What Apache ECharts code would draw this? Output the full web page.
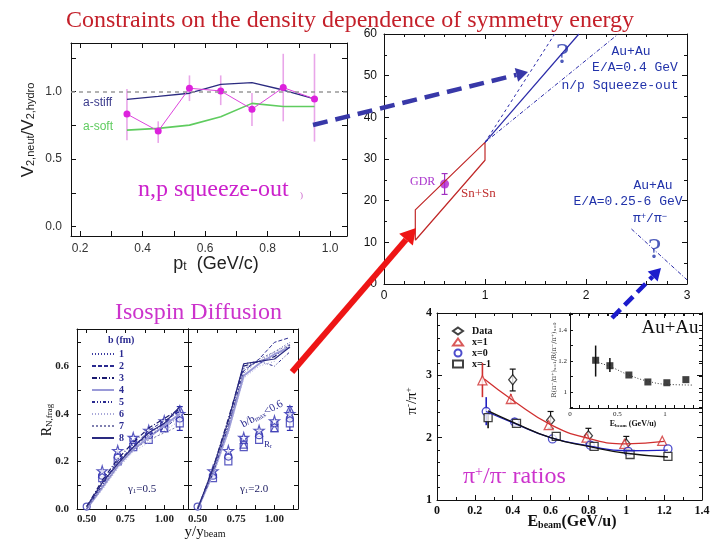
<!DOCTYPE html>
<html><head><meta charset="utf-8">
<script src="https://cdn.jsdelivr.net/npm/echarts@6/dist/echarts.min.js"></script>
<style>html,body{margin:0;padding:0;background:#fff}#c{width:720px;height:540px}</style>
</head><body><div id="c"></div>
<script>
// ---------- top-left: V2 ratio vs pt ----------
const ptValues = [0.35, 0.45, 0.55, 0.65, 0.75, 0.85, 0.95];
const v2Data   = [0.834, 0.708, 1.025, 1.005, 0.87, 1.03, 0.946];
const v2ErrLo  = [0.64, 0.62, 0.93, 0.90, 0.745, 0.78, 0.63];
const v2ErrHi  = [1.02, 0.78, 1.12, 1.12, 0.99, 1.28, 1.28];
const aStiff   = [0.943, 0.965, 0.988, 1.054, 1.067, 1.012, 0.946];
const aSoft    = [0.715, 0.728, 0.752, 0.814, 0.913, 0.89, 0.89];
const tlXTicks = [0.2, 0.3, 0.4, 0.5, 0.6, 0.7, 0.8, 0.9, 1.0];
const tlXLabels = [0.2, 0.4, 0.6, 0.8, 1.0];
const tlYTicks = [0, 0.25, 0.5, 0.75, 1.0, 1.25];
const tlYLabels = [0, 0.5, 1.0];

// ---------- top-right: symmetry energy vs density ----------
const snSnBand = [[0.31, 10.5], [0.31, 17.8], [1.0, 34], [1.0, 29.7], [0.31, 10.5]];
const gdrPoint = [0.6, 24];
const gdrErr = [21.5, 26.5];
const squeezeSolid = [[1.0, 34], [1.93, 60]];
const squeezeDashL = [[1.0, 34], [1.69, 60]];
const squeezeDashR = [[1.0, 34], [2.32, 60]];
const pionLine = [[2.45, 13.2], [3.0, 1.0]];
const questionMarks = [[1.77, 55], [2.68, 8.2]];

// ---------- bottom-left: isospin diffusion ----------
const yRatio = [0.5, 0.6, 0.7, 0.8, 0.9, 1.0, 1.1];
const bNames = ['1', '2', '3', '4', '5', '6', '7', '8'];
const gammaLow = [
  [0, 0.10, 0.19, 0.27, 0.31, 0.36, 0.42],
  [0, 0.11, 0.20, 0.26, 0.33, 0.37, 0.41],
  [0.01, 0.12, 0.21, 0.28, 0.34, 0.38, 0.42],
  [0, 0.09, 0.18, 0.25, 0.30, 0.35, 0.40],
  [0, 0.10, 0.20, 0.26, 0.31, 0.34, 0.39],
  [0, 0.08, 0.17, 0.24, 0.28, 0.33, 0.37],
  [0, 0.09, 0.18, 0.25, 0.29, 0.32, 0.35],
  [0.01, 0.11, 0.19, 0.26, 0.32, 0.36, 0.43]
];
const gammaHigh = [
  [0, 0.16, 0.36, 0.61, 0.62, 0.66, 0.70],
  [0, 0.16, 0.34, 0.58, 0.63, 0.70, 0.72],
  [0, 0.17, 0.38, 0.60, 0.62, 0.64, 0.69],
  [0, 0.15, 0.33, 0.56, 0.61, 0.65, 0.68],
  [0, 0.15, 0.35, 0.59, 0.62, 0.60, 0.66],
  [0, 0.14, 0.32, 0.55, 0.60, 0.62, 0.70],
  [0, 0.16, 0.35, 0.57, 0.63, 0.66, 0.69],
  [0, 0.17, 0.37, 0.61, 0.62, 0.63, 0.68]
];
const rStars   = [[0.6, 0.16], [0.7, 0.245], [0.8, 0.30], [0.9, 0.33], [1.0, 0.37], [1.1, 0.40]];
const rCircles = [[0.5, 0.01], [0.6, 0.14], [0.7, 0.22], [0.8, 0.29], [0.9, 0.31], [1.0, 0.36], [1.1, 0.38]];
const rSquares = [[0.6, 0.13], [0.7, 0.20], [0.8, 0.26], [0.9, 0.29], [1.0, 0.34], [1.1, 0.36]];
const rTris    = [[0.6, 0.15], [0.7, 0.23], [0.8, 0.27], [0.9, 0.32], [1.0, 0.34], [1.1, 0.42]];
const rErr     = [[1.1, 0.33, 0.43]];
const blXTicks = [0.5, 0.625, 0.75, 0.875, 1.0, 1.125];
const blXLabels = [0.5, 0.75, 1.0];
const blYTicks = [0, 0.1, 0.2, 0.3, 0.4, 0.5, 0.6, 0.7];
const blYLabels = [0, 0.2, 0.4, 0.6];

// ---------- bottom-right: pion ratios ----------
const eData = [0.4, 0.6, 0.8, 1.0];
const rData = [2.93, 2.28, 2.03, 1.9];
const rDataLo = [2.75, 2.15, 1.9, 1.8];
const rDataHi = [3.1, 2.42, 2.15, 2.02];
const eX1 = [0.24, 0.39, 0.59, 0.79, 0.99, 1.19];
const rX1 = [2.92, 2.62, 2.2, 2.0, 1.9, 1.95];
const eX0 = [0.26, 0.41, 0.61, 0.81, 1.01, 1.22];
const rX0 = [2.42, 2.25, 1.98, 1.88, 1.78, 1.82];
const eXm1 = [0.27, 0.42, 0.63, 0.83, 1.02, 1.22];
const rXm1 = [2.32, 2.23, 2.02, 1.86, 1.73, 1.70];
const simErr = [[0.24, 2.65, 3.2, 'r'], [0.39, 2.55, 2.7, 'r'], [0.26, 2.2, 2.65, 'b'], [0.41, 2.18, 2.32, 'b'], [0.27, 2.15, 2.4, 'k']];
const curveX1 = [[0.25, 2.94], [0.4, 2.6], [0.6, 2.21], [0.8, 1.99], [1.0, 1.9], [1.2, 1.94]];
const curveX0 = [[0.26, 2.42], [0.4, 2.24], [0.6, 2.0], [0.8, 1.87], [1.0, 1.79], [1.22, 1.8]];
const curveXm1 = [[0.27, 2.43], [0.4, 2.25], [0.6, 2.0], [0.8, 1.86], [1.0, 1.75], [1.22, 1.69]];
// inset
const eInset = [0.27, 0.42, 0.62, 0.82, 1.02, 1.22];
const rInset = [1.205, 1.17, 1.11, 1.065, 1.06, 1.08];
const insetErr = [[0.27, 1.1, 1.3], [0.42, 1.13, 1.22]];
const insetCurve = [[0.3, 1.19], [0.42, 1.165], [0.62, 1.11], [0.82, 1.07], [1.02, 1.05], [1.3, 1.045]];
const inXTicks = [0, 0.1, 0.2, 0.3, 0.4, 0.5, 0.6, 0.7, 0.8, 0.9, 1.0, 1.1, 1.2, 1.3];
const inXLabels = [0, 0.5, 1];
const inYTicks = [0.9, 1.0, 1.1, 1.2, 1.3, 1.4, 1.5];
const inYLabels = [1, 1.2, 1.4];

// ---------------------------------------------------------------
const zip = (xs, ys) => xs.map((x, i) => [x, ys[i]]);
const xAxes = [], yAxes = [];
function frame(grid, xc, yc, lab) {
  const xi = xAxes.length, yi = yAxes.length;
  const mk = (pos, c, main) => ({
    gridIndex: grid, type: 'value', position: pos, min: c.min, max: c.max,
    interval: c.interval,
    axisLine: { show: true, onZero: false, lineStyle: { color: '#111', width: 1 } },
    axisTick: Object.assign({ show: true, inside: true, length: c.tl || 5, lineStyle: { color: '#111' } }, c.ticks ? { customValues: c.ticks } : {}),
    minorTick: c.minor ? { show: true, splitNumber: c.minor, length: 3, lineStyle: { color: '#111' } } : { show: false },
    axisLabel: main && !c.noLabel ? Object.assign({ show: true, margin: c.margin || 6, formatter: c.fmt }, c.labels ? { customValues: c.labels } : {}, lab) : { show: false },
    splitLine: { show: false }
  });
  xAxes.push(mk('bottom', xc, true), mk('top', xc, false));
  yAxes.push(mk('left', yc, true), mk('right', yc, false));
  return [xi, yi];
}
function errBar(color, w, cap) {
  return function (params, api) {
    const x = api.value(0), lo = api.value(1), hi = api.value(2);
    const a = api.coord([x, lo]), b = api.coord([x, hi]);
    const st = { stroke: color, lineWidth: w };
    const ch = [{ type: 'line', shape: { x1: a[0], y1: a[1], x2: b[0], y2: b[1] }, style: st }];
    if (cap) {
      ch.push({ type: 'line', shape: { x1: a[0] - cap, y1: a[1], x2: a[0] + cap, y2: a[1] }, style: st });
      ch.push({ type: 'line', shape: { x1: b[0] - cap, y1: b[1], x2: b[0] + cap, y2: b[1] }, style: st });
    }
    return { type: 'group', children: ch };
  };
}

const grids = [
  { left: 71, top: 43, width: 276, height: 193 },
  { left: 384, top: 34, width: 303, height: 250 },
  { left: 77, top: 329, width: 111, height: 180 },
  { left: 188, top: 329, width: 110, height: 180 },
  { left: 437, top: 313, width: 265, height: 187 },
  { left: 570, top: 313, width: 132, height: 95 }
].map(g => Object.assign({ outerBoundsMode: 'none', containLabel: false }, g));

const fmt1 = v => v.toFixed(1), fmt2 = v => v.toFixed(2);
const [tlX, tlY] = frame(0, { min: 0.171, max: 1.054, ticks: tlXTicks, labels: tlXLabels, fmt: fmt1, margin: 7 },
  { min: -0.069, max: 1.36, ticks: tlYTicks, labels: tlYLabels, fmt: fmt1, margin: 9 },
  { fontFamily: 'Liberation Sans', fontSize: 12, color: '#333' });
const [trX, trY] = frame(1, { min: 0, max: 3, interval: 1, minor: 5, margin: 6 },
  { min: 0, max: 60, interval: 10, minor: 2, margin: 7 },
  { fontFamily: 'Liberation Sans', fontSize: 12, color: '#111' });
const [blX, blY] = frame(2, { min: 0.4375, max: 1.153, ticks: blXTicks, labels: blXLabels, fmt: fmt2, tl: 4, margin: 5 },
  { min: 0, max: 0.756, ticks: blYTicks, labels: blYLabels, fmt: fmt1, tl: 4, margin: 8 },
  { fontFamily: 'Liberation Serif', fontSize: 11, fontWeight: 'bold', color: '#222' });
const [brX2, brY2] = frame(3, { min: 0.4375, max: 1.153, ticks: blXTicks, labels: blXLabels, fmt: fmt2, tl: 4, margin: 5 },
  { min: 0, max: 0.756, ticks: blYTicks, tl: 4, noLabel: true },
  { fontFamily: 'Liberation Serif', fontSize: 11, fontWeight: 'bold', color: '#222' });
const [prX, prY] = frame(4, { min: 0, max: 1.4, interval: 0.2, minor: 2, margin: 5 },
  { min: 1, max: 4, interval: 1, minor: 5, margin: 5 },
  { fontFamily: 'Liberation Serif', fontSize: 12, fontWeight: 'bold', color: '#111' });
const [inX, inY] = frame(5, { min: 0, max: 1.39, ticks: inXTicks, labels: inXLabels, tl: 3, margin: 3 },
  { min: 0.897, max: 1.51, ticks: inYTicks, labels: inYLabels, tl: 3, margin: 3 },
  { fontFamily: 'Liberation Serif', fontSize: 7, color: '#222' });

const series = [];
const on = (xi, yi) => ({ xAxisIndex: xi, yAxisIndex: yi });

// top-left
series.push(Object.assign({ type: 'line', data: zip(ptValues, aStiff), symbol: 'none', lineStyle: { color: '#2b2b80', width: 1.3 },
  markLine: { silent: true, symbol: 'none', label: { show: false }, lineStyle: { color: '#999', type: [4, 4], width: 1.5 }, data: [{ yAxis: 1 }] } }, on(tlX, tlY)));
series.push(Object.assign({ type: 'line', data: zip(ptValues, aSoft), symbol: 'none', lineStyle: { color: '#5fcc5f', width: 1.6 } }, on(tlX, tlY)));
series.push(Object.assign({ type: 'custom', renderItem: errBar('#e9a6e9', 1.6, 0), encode: { x: 0, y: [1, 2] },
  data: ptValues.map((x, i) => [x, v2ErrLo[i], v2ErrHi[i]]) }, on(tlX, tlY)));
series.push(Object.assign({ type: 'line', data: zip(ptValues, v2Data), symbol: 'circle', symbolSize: 7,
  itemStyle: { color: '#dd22dd' }, lineStyle: { color: '#dd44dd', width: 1 } }, on(tlX, tlY)));

// top-right
series.push(Object.assign({ type: 'line', data: snSnBand, symbol: 'none', lineStyle: { color: '#c02828', width: 1.2 } }, on(trX, trY)));
series.push(Object.assign({ type: 'line', data: squeezeSolid, symbol: 'none', lineStyle: { color: '#2a2aa8', width: 1.2 } }, on(trX, trY)));
series.push(Object.assign({ type: 'line', data: squeezeDashL, symbol: 'none', lineStyle: { color: '#2a2aa8', width: 1, type: [3, 3] } }, on(trX, trY)));
series.push(Object.assign({ type: 'line', data: squeezeDashR, symbol: 'none', lineStyle: { color: '#2a2aa8', width: 1, type: [4, 2, 1, 2] } }, on(trX, trY)));
series.push(Object.assign({ type: 'line', data: pionLine, symbol: 'none', lineStyle: { color: '#2a2aa8', width: 1, type: [4, 2, 1, 2] } }, on(trX, trY)));
series.push(Object.assign({ type: 'custom', renderItem: errBar('#a030c0', 1.2, 3), encode: { x: 0, y: [1, 2] },
  data: [[gdrPoint[0], gdrErr[0], gdrErr[1]]] }, on(trX, trY)));
series.push(Object.assign({ type: 'scatter', data: [gdrPoint], symbol: 'circle', symbolSize: 9, itemStyle: { color: '#b020d0' } }, on(trX, trY)));
series.push(Object.assign({ type: 'scatter', data: questionMarks, symbolSize: 1, itemStyle: { color: 'rgba(0,0,0,0)' },
  label: { show: true, position: 'inside', formatter: '?', fontFamily: 'Liberation Serif', fontSize: 30, color: '#2233aa' } }, on(trX, trY)));

// bottom-left
const bStyles = [
  { type: [1, 2], color: '#3a3aa0', width: 1 },
  { type: [4, 2], color: '#2a2a90', width: 1 },
  { type: [5, 2, 1, 2], color: '#1a1a70', width: 1.2 },
  { type: 'solid', color: '#9a9ad8', width: 2 },
  { type: [3, 2, 1, 2, 1, 2], color: '#2a2a90', width: 1 },
  { type: [1, 2], color: '#a8a8d8', width: 1 },
  { type: [2, 2], color: '#8080b0', width: 1 },
  { type: 'solid', color: '#2a2a80', width: 1.2 }
];
bNames.forEach((n, i) => {
  series.push(Object.assign({ type: 'line', name: n, data: zip(yRatio, gammaLow[i]), symbol: 'none', lineStyle: bStyles[i], itemStyle: { color: bStyles[i].color } }, on(blX, blY)));
  series.push(Object.assign({ type: 'line', name: 'h' + n, data: zip(yRatio, gammaHigh[i]), symbol: 'none', lineStyle: bStyles[i], itemStyle: { color: bStyles[i].color } }, on(brX2, brY2)));
});
const starPath = 'path://M50,0 L61,35 L98,35 L68,57 L79,91 L50,70 L21,91 L32,57 L2,35 L39,35 Z';
[[blX, blY], [brX2, brY2]].forEach(([xi, yi]) => {
  const open = { color: '#fff', borderColor: '#3030b0', borderWidth: 1.2 };
  series.push(Object.assign({ type: 'custom', renderItem: errBar('#3030b0', 1.2, 3), encode: { x: 0, y: [1, 2] }, data: rErr }, on(xi, yi)));
  series.push(Object.assign({ type: 'scatter', data: rSquares, symbol: 'rect', symbolSize: 7, itemStyle: open }, on(xi, yi)));
  series.push(Object.assign({ type: 'scatter', data: rTris, symbol: 'triangle', symbolSize: 7, itemStyle: open }, on(xi, yi)));
  series.push(Object.assign({ type: 'scatter', data: rCircles, symbol: 'circle', symbolSize: 7, itemStyle: open }, on(xi, yi)));
  series.push(Object.assign({ type: 'scatter', data: rStars, symbol: starPath, symbolSize: 10, itemStyle: open }, on(xi, yi)));
});

// bottom-right
series.push(Object.assign({ type: 'line', data: curveX1, smooth: true, symbol: 'none', lineStyle: { color: '#d03030', width: 1.3 } }, on(prX, prY)));
series.push(Object.assign({ type: 'line', data: curveX0, smooth: true, symbol: 'none', lineStyle: { color: '#2020c0', width: 1.3 } }, on(prX, prY)));
series.push(Object.assign({ type: 'line', data: curveXm1, smooth: true, symbol: 'none', lineStyle: { color: '#111', width: 1.3 } }, on(prX, prY)));
series.push(Object.assign({ type: 'custom', renderItem: errBar('#111', 1.2, 3), encode: { x: 0, y: [1, 2] },
  data: eData.map((x, i) => [x, rDataLo[i], rDataHi[i]]) }, on(prX, prY)));
const simCol = { r: '#d03030', b: '#2020c0', k: '#111' };
['r', 'b', 'k'].forEach(k => {
  series.push(Object.assign({ type: 'custom', renderItem: errBar(simCol[k], 1.6, 0), encode: { x: 0, y: [1, 2] },
    data: simErr.filter(d => d[3] === k).map(d => [d[0], d[1], d[2]]) }, on(prX, prY)));
});
series.push(Object.assign({ type: 'scatter', name: 'Data', data: zip(eData, rData), symbol: 'diamond', symbolSize: [8, 10],
  itemStyle: { color: '#fff', borderColor: '#111', borderWidth: 1.3 } }, on(prX, prY)));
series.push(Object.assign({ type: 'scatter', name: 'x=1', data: zip(eX1, rX1), symbol: 'triangle', symbolSize: 9,
  itemStyle: { color: '#fff', borderColor: '#d03030', borderWidth: 1.3 } }, on(prX, prY)));
series.push(Object.assign({ type: 'scatter', name: 'x=0', data: zip(eX0, rX0), symbol: 'circle', symbolSize: 8,
  itemStyle: { color: '#fff', borderColor: '#2020c0', borderWidth: 1.3 } }, on(prX, prY)));
series.push(Object.assign({ type: 'scatter', name: 'x=-1', data: zip(eXm1, rXm1), symbol: 'rect', symbolSize: 8,
  itemStyle: { color: '#fff', borderColor: '#111', borderWidth: 1.3 } }, on(prX, prY)));

// inset
series.push(Object.assign({ type: 'line', data: insetCurve, smooth: true, symbol: 'none', lineStyle: { color: '#333', width: 1, type: [1, 2] } }, on(inX, inY)));
series.push(Object.assign({ type: 'custom', renderItem: errBar('#111', 1.5, 0), encode: { x: 0, y: [1, 2] }, data: insetErr }, on(inX, inY)));
series.push(Object.assign({ type: 'scatter', data: zip(eInset, rInset), symbol: 'rect', symbolSize: 7, itemStyle: { color: '#111' } }, on(inX, inY)));

// ---------- annotations ----------
function txt(x, y, text, font, fill, align, rot, rich) {
  return { type: 'text', x: x, y: y, rotation: rot || 0, z: 100,
    style: { text: text, font: font, fill: fill, align: align || 'left', verticalAlign: 'middle', rich: rich } };
}
function arrow(x1, y1, x2, y2, color, w, dash, head) {
  const ang = Math.atan2(y2 - y1, x2 - x1), hl = head * 1.7, hw = head;
  const bx = x2 - hl * Math.cos(ang), by = y2 - hl * Math.sin(ang);
  const px = -Math.sin(ang), py = Math.cos(ang);
  return [
    { type: 'line', z: 90, shape: { x1: x1, y1: y1, x2: bx, y2: by }, style: { stroke: color, lineWidth: w, lineDash: dash } },
    { type: 'polygon', z: 90, shape: { points: [[x2, y2], [bx + px * hw, by + py * hw], [bx - px * hw, by - py * hw]] }, style: { fill: color } }
  ];
}
const sub = (size, fam, col, extra) => Object.assign({ fontSize: size, fontFamily: fam, fill: col, verticalAlign: 'bottom' }, extra || {});
const graphic = [].concat(
  arrow(313, 125, 528, 72, '#3838a8', 4.5, [15, 8], 7),
  arrow(292, 372, 416, 228, '#ee1515', 6, null, 9),
  arrow(612, 318, 661, 268, '#1c1ccc', 4.5, [12, 6], 7),
  [
    txt(138, 190, 'n,p squeeze-out', '24px "Liberation Serif"', '#cc22cc'),
    txt(300, 196, ')', '9px "Liberation Serif"', '#cc66cc'),
    txt(83, 103, 'a-stiff', '12px "Liberation Sans"', '#3a3a8c'),
    txt(83, 127, 'a-soft', '12px "Liberation Sans"', '#5fcc5f'),
    txt(28, 130, '{m|V}{s|2,neut}{m|/V}{s|2,hydro}', '17px "Liberation Sans"', '#222', 'center', Math.PI / 2,
      { m: { fontSize: 17, fontFamily: 'Liberation Sans', fill: '#222' }, s: sub(11, 'Liberation Sans', '#222') }),
    txt(216, 264, '{m|p}{s|t}{m|  (GeV/c)}', '18px "Liberation Sans"', '#222', 'center', 0,
      { m: { fontSize: 18, fontFamily: 'Liberation Sans', fill: '#222' }, s: sub(12, 'Liberation Sans', '#222') }),

    txt(631, 52, 'Au+Au', '13px "Liberation Mono"', '#2233aa', 'center'),
    txt(635, 68, 'E/A=0.4 GeV', '13px "Liberation Mono"', '#2233aa', 'center'),
    txt(620, 86, 'n/p Squeeze-out', '13px "Liberation Mono"', '#2233aa', 'center'),
    txt(653, 186, 'Au+Au', '13px "Liberation Mono"', '#2233aa', 'center'),
    txt(628, 202, 'E/A=0.25-6 GeV', '13px "Liberation Mono"', '#2233aa', 'center'),
    txt(650, 219, '{m|π}{p|+}{m|/π}{p|−}', '13px "Liberation Mono"', '#2233aa', 'center', 0,
      { m: { fontSize: 13, fontFamily: 'Liberation Mono', fill: '#2233aa' }, p: { fontSize: 9, fontFamily: 'Liberation Mono', fill: '#2233aa', verticalAlign: 'top' } }),
    txt(410, 182, 'GDR', '12px "Liberation Serif"', '#aa33cc'),
    txt(461, 194, 'Sn+Sn', '13px "Liberation Serif"', '#c03030'),

    txt(115, 313, 'Isospin Diffusion', '24px "Liberation Serif"', '#cc33cc'),
    txt(108, 340, 'b (fm)', 'bold 10px "Liberation Serif"', '#2a2a90'),
    txt(128, 489, '{m|γ}{s|1}{m|=0.5}', '11px "Liberation Serif"', '#222266', 'left', 0,
      { m: { fontSize: 11, fontFamily: 'Liberation Serif', fill: '#222266' }, s: sub(7, 'Liberation Serif', '#222266') }),
    txt(240, 489, '{m|γ}{s|1}{m|=2.0}', '11px "Liberation Serif"', '#222266', 'left', 0,
      { m: { fontSize: 11, fontFamily: 'Liberation Serif', fill: '#222266' }, s: sub(7, 'Liberation Serif', '#222266') }),
    txt(262, 414, '{m|b/b}{s|max}{m|<0.6}', '11px "Liberation Serif"', '#2a2a90', 'center', 0.5,
      { m: { fontSize: 11, fontFamily: 'Liberation Serif', fill: '#2a2a90' }, s: sub(7, 'Liberation Serif', '#2a2a90') }),
    txt(268, 445, '{m|R}{s|r}', '9px "Liberation Serif"', '#2a2a90', 'center', 0,
      { m: { fontSize: 9, fontFamily: 'Liberation Serif', fill: '#2a2a90' }, s: sub(6, 'Liberation Serif', '#2a2a90') }),
    txt(47, 420, '{m|R}{s|N,frag}', '14px "Liberation Serif"', '#111', 'center', Math.PI / 2,
      { m: { fontSize: 14, fontFamily: 'Liberation Serif', fill: '#111' }, s: sub(9, 'Liberation Serif', '#111') }),
    txt(205, 532, '{m|y/y}{s|beam}', '15px "Liberation Serif"', '#111', 'center', 0,
      { m: { fontSize: 15, fontFamily: 'Liberation Serif', fill: '#111' }, s: sub(10, 'Liberation Serif', '#111') }),

    txt(412, 401, '{m|π}{p|-}{m|/π}{p|+}', '15px "Liberation Serif"', '#111', 'center', Math.PI / 2,
      { m: { fontSize: 15, fontFamily: 'Liberation Serif', fill: '#111' }, p: { fontSize: 9, fontFamily: 'Liberation Serif', fill: '#111', verticalAlign: 'top' } }),
    txt(572, 522, '{m|E}{s|beam}{m|(GeV/u)}', 'bold 16px "Liberation Serif"', '#111', 'center', 0,
      { m: { fontSize: 16, fontWeight: 'bold', fontFamily: 'Liberation Serif', fill: '#111' }, s: sub(10, 'Liberation Serif', '#111', { fontWeight: 'bold' }) }),
    txt(633, 424, '{m|E}{s|beam}{m| (GeV/u)}', 'bold 8px "Liberation Serif"', '#111', 'center', 0,
      { m: { fontSize: 8, fontWeight: 'bold', fontFamily: 'Liberation Serif', fill: '#111' }, s: sub(5, 'Liberation Serif', '#111', { fontWeight: 'bold' }) }),
    txt(554, 360, 'R(π⁻/π⁺)ₓ₌₁/R(π⁻/π⁺)ₓ₌₀', '6.5px "DejaVu Serif"', '#222', 'center', Math.PI / 2),
    txt(670, 328, 'Au+Au', '19px "Liberation Serif"', '#111', 'center'),
    txt(463, 477, '{m|π}{p|+}{m|/π}{p|-}{m| ratios}', '24px "Liberation Serif"', '#cc33cc', 'left', 0,
      { m: { fontSize: 24, fontFamily: 'Liberation Serif', fill: '#cc33cc' }, p: { fontSize: 14, fontFamily: 'Liberation Serif', fill: '#cc33cc', verticalAlign: 'top' } })
  ]
);

const chart = echarts.init(document.getElementById('c'), null, { renderer: 'canvas' });
chart.setOption({
  backgroundColor: '#fff',
  animation: false,
  title: { text: 'Constraints on the density dependence of symmetry energy', left: 61, top: 4,
    textStyle: { fontFamily: 'Liberation Serif', fontSize: 24, fontWeight: 'normal', color: '#c4202a' } },
  grid: grids,
  xAxis: xAxes,
  yAxis: yAxes,
  legend: [
    { data: bNames, orient: 'vertical', left: 86, top: 344, itemWidth: 22, itemHeight: 8, itemGap: 2, selectedMode: false,
      itemStyle: { opacity: 0 },
      textStyle: { fontFamily: 'Liberation Serif', fontSize: 10, fontWeight: 'bold', color: '#2a2a90', lineHeight: 8 } },
    { data: ['Data', 'x=1', 'x=0', 'x=-1'], orient: 'vertical', left: 447, top: 321, itemWidth: 10, itemHeight: 7, itemGap: 1, selectedMode: false,
      textStyle: { fontFamily: 'Liberation Serif', fontSize: 10, fontWeight: 'bold', color: '#111', lineHeight: 7, padding: [0, 0, 0, 4] } }
  ],
  series: series,
  graphic: graphic
});
</script></body></html>
